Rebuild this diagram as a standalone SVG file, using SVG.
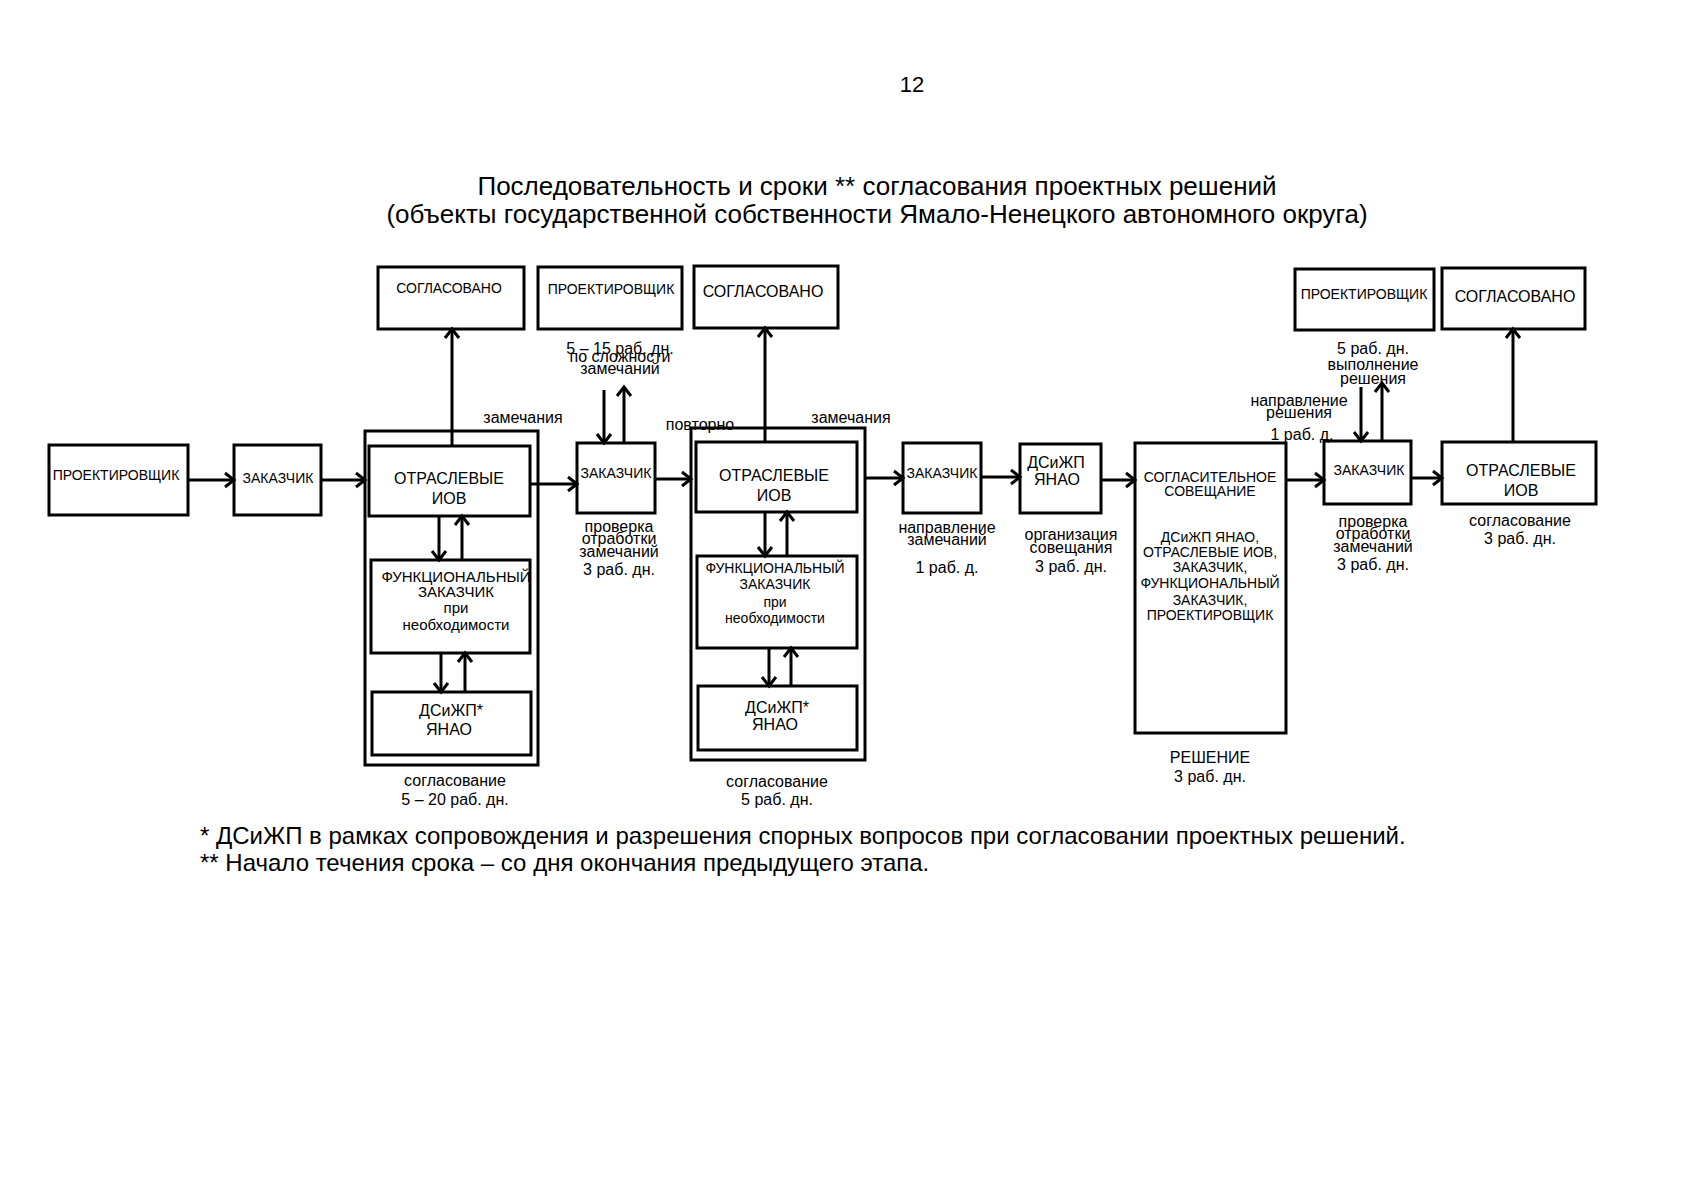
<svg xmlns="http://www.w3.org/2000/svg" width="1697" height="1200" viewBox="0 0 1697 1200">
<style>
text{font-family:"Liberation Sans",Arial,sans-serif;fill:#000;text-anchor:middle}
.box{fill:#fff;stroke:#000;stroke-width:3}
.outer{fill:none;stroke:#000;stroke-width:3}
.n14{font-size:14px}
.n15{font-size:15px}
.n16{font-size:16px}
.lbl{font-size:16px}
.title{font-size:26px}
.note{font-size:24px;text-anchor:start}
.c line{stroke:#000;stroke-width:3;marker-end:url(#ah)}
</style>
<defs>
<marker id="ah" markerUnits="userSpaceOnUse" markerWidth="14" markerHeight="18" refX="11" refY="9" orient="auto">
<path d="M2,2 L11,9 L2,16" fill="none" stroke="#000" stroke-width="3"/>
</marker>
</defs>
<rect width="1697" height="1200" fill="#fff"/>
<text x="912" y="92" style="font-size:22px">12</text>
<text class="title" x="877" y="195">Последовательность и сроки ** согласования проектных решений</text>
<text class="title" x="877" y="223">(объекты государственной собственности Ямало-Ненецкого автономного округа)</text>

<g id="outer1"><rect class="outer" x="365" y="431" width="173" height="334"/></g>
<g id="outer2"><rect class="outer" x="691" y="428" width="174" height="332"/></g>

<g id="p1"><rect class="box" x="49" y="445" width="139" height="70"/><text class="n14" x="116" y="480">ПРОЕКТИРОВЩИК</text></g>
<g id="z1"><rect class="box" x="234" y="445" width="87" height="70"/><text class="n14" x="278" y="483">ЗАКАЗЧИК</text></g>
<g id="otr1"><rect class="box" x="369" y="446" width="161" height="70"/><text class="n16" x="449" y="484">ОТРАСЛЕВЫЕ</text><text class="n16" x="449" y="504">ИОВ</text></g>
<g id="func1"><rect class="box" x="371" y="560" width="159" height="93"/><text class="n15" x="456" y="582">ФУНКЦИОНАЛЬНЫЙ</text><text class="n15" x="456" y="597">ЗАКАЗЧИК</text><text class="n15" x="456" y="613">при</text><text class="n15" x="456" y="630">необходимости</text></g>
<g id="ds1"><rect class="box" x="372" y="692" width="159" height="63"/><text class="n16" x="451" y="716">ДСиЖП*</text><text class="n16" x="449" y="735">ЯНАО</text></g>
<g id="sogl1"><rect class="box" x="378" y="267" width="146" height="62"/><text class="n14" x="449" y="293">СОГЛАСОВАНО</text></g>
<g id="p2"><rect class="box" x="538" y="267" width="144" height="62"/><text class="n14" x="611" y="294">ПРОЕКТИРОВЩИК</text></g>
<g id="sogl2"><rect class="box" x="694" y="266" width="144" height="62"/><text class="n16" x="763" y="297">СОГЛАСОВАНО</text></g>
<g id="z2"><rect class="box" x="577" y="443" width="78" height="70"/><text class="n14" x="616" y="478">ЗАКАЗЧИК</text></g>
<g id="otr2"><rect class="box" x="696" y="442" width="161" height="70"/><text class="n16" x="774" y="481">ОТРАСЛЕВЫЕ</text><text class="n16" x="774" y="501">ИОВ</text></g>
<g id="func2"><rect class="box" x="697" y="556" width="160" height="92"/><text class="n14" x="775" y="573">ФУНКЦИОНАЛЬНЫЙ</text><text class="n14" x="775" y="589">ЗАКАЗЧИК</text><text class="n14" x="775" y="607">при</text><text class="n14" x="775" y="623">необходимости</text></g>
<g id="ds2"><rect class="box" x="698" y="686" width="159" height="64"/><text class="n16" x="777" y="713">ДСиЖП*</text><text class="n16" x="775" y="730">ЯНАО</text></g>
<g id="z3"><rect class="box" x="903" y="443" width="78" height="70"/><text class="n14" x="942" y="478">ЗАКАЗЧИК</text></g>
<g id="ds3"><rect class="box" x="1020" y="444" width="81" height="69"/><text class="n16" x="1056" y="468">ДСиЖП</text><text class="n16" x="1057" y="485">ЯНАО</text></g>
<g id="sovesh"><rect class="box" x="1135" y="443" width="151" height="290"/><text class="n14" x="1210" y="482">СОГЛАСИТЕЛЬНОЕ</text><text class="n14" x="1210" y="496">СОВЕЩАНИЕ</text><text class="n14" x="1210" y="542">ДСиЖП ЯНАО,</text><text class="n14" x="1210" y="557">ОТРАСЛЕВЫЕ ИОВ,</text><text class="n14" x="1210" y="572">ЗАКАЗЧИК,</text><text class="n14" x="1210" y="588">ФУНКЦИОНАЛЬНЫЙ</text><text class="n14" x="1210" y="605">ЗАКАЗЧИК,</text><text class="n14" x="1210" y="620">ПРОЕКТИРОВЩИК</text></g>
<g id="p3"><rect class="box" x="1295" y="269" width="139" height="61"/><text class="n14" x="1364" y="299">ПРОЕКТИРОВЩИК</text></g>
<g id="sogl3"><rect class="box" x="1442" y="268" width="143" height="61"/><text class="n16" x="1515" y="302">СОГЛАСОВАНО</text></g>
<g id="z4"><rect class="box" x="1324" y="441" width="87" height="63"/><text class="n14" x="1369" y="475">ЗАКАЗЧИК</text></g>
<g id="otr3"><rect class="box" x="1442" y="442" width="154" height="62"/><text class="n16" x="1521" y="476">ОТРАСЛЕВЫЕ</text><text class="n16" x="1521" y="496">ИОВ</text></g>

<g id="connectors" class="c">
<line x1="188" y1="480" x2="234" y2="480"/>
<line x1="321" y1="480" x2="365" y2="480"/>
<line x1="452" y1="446" x2="452" y2="329"/>
<line x1="530" y1="484" x2="577" y2="484"/>
<line x1="439" y1="516" x2="439" y2="560"/>
<line x1="462" y1="560" x2="462" y2="516"/>
<line x1="441" y1="653" x2="441" y2="692"/>
<line x1="465" y1="692" x2="465" y2="653"/>
<line x1="604" y1="390" x2="604" y2="443"/>
<line x1="624" y1="443" x2="624" y2="387"/>
<line x1="655" y1="479" x2="691" y2="479"/>
<line x1="765" y1="442" x2="765" y2="328"/>
<line x1="765" y1="512" x2="765" y2="556"/>
<line x1="787" y1="556" x2="787" y2="512"/>
<line x1="769" y1="648" x2="769" y2="686"/>
<line x1="791" y1="686" x2="791" y2="648"/>
<line x1="865" y1="478" x2="903" y2="478"/>
<line x1="981" y1="477" x2="1020" y2="477"/>
<line x1="1101" y1="480" x2="1135" y2="480"/>
<line x1="1286" y1="480" x2="1324" y2="480"/>
<line x1="1361" y1="387" x2="1361" y2="441"/>
<line x1="1382" y1="441" x2="1382" y2="383"/>
<line x1="1411" y1="478" x2="1442" y2="478"/>
<line x1="1513" y1="442" x2="1513" y2="329"/>
</g>

<g id="labels">
<text class="lbl" x="523" y="423">замечания</text>
<text class="lbl" x="620" y="354">5 – 15 раб. дн.</text>
<text class="lbl" x="620" y="362">по сложности</text>
<text class="lbl" x="620" y="374">замечаний</text>
<text class="lbl" x="700" y="430">повторно</text>
<text class="lbl" x="851" y="423">замечания</text>
<text class="lbl" x="619" y="532">проверка</text>
<text class="lbl" x="619" y="544">отработки</text>
<text class="lbl" x="619" y="557">замечаний</text>
<text class="lbl" x="619" y="575">3 раб. дн.</text>
<text class="lbl" x="455" y="786">согласование</text>
<text class="lbl" x="455" y="805">5 – 20 раб. дн.</text>
<text class="lbl" x="777" y="787">согласование</text>
<text class="lbl" x="777" y="805">5 раб. дн.</text>
<text class="lbl" x="947" y="533">направление</text>
<text class="lbl" x="947" y="545">замечаний</text>
<text class="lbl" x="947" y="573">1 раб. д.</text>
<text class="lbl" x="1071" y="540">организация</text>
<text class="lbl" x="1071" y="553">совещания</text>
<text class="lbl" x="1071" y="572">3 раб. дн.</text>
<text class="lbl" x="1210" y="763">РЕШЕНИЕ</text>
<text class="lbl" x="1210" y="782">3 раб. дн.</text>
<text class="lbl" x="1299" y="406">направление</text>
<text class="lbl" x="1299" y="418">решения</text>
<text class="lbl" x="1302" y="440">1 раб. д.</text>
<text class="lbl" x="1373" y="354">5 раб. дн.</text>
<text class="lbl" x="1373" y="370">выполнение</text>
<text class="lbl" x="1373" y="384">решения</text>
<text class="lbl" x="1373" y="527">проверка</text>
<text class="lbl" x="1373" y="539">отработки</text>
<text class="lbl" x="1373" y="552">замечаний</text>
<text class="lbl" x="1373" y="570">3 раб. дн.</text>
<text class="lbl" x="1520" y="526">согласование</text>
<text class="lbl" x="1520" y="544">3 раб. дн.</text>
</g>

<text class="note" x="200" y="844">* ДСиЖП в рамках сопровождения и разрешения спорных вопросов при согласовании проектных решений.</text>
<text class="note" x="200" y="871">** Начало течения срока – со дня окончания предыдущего этапа.</text>
</svg>
